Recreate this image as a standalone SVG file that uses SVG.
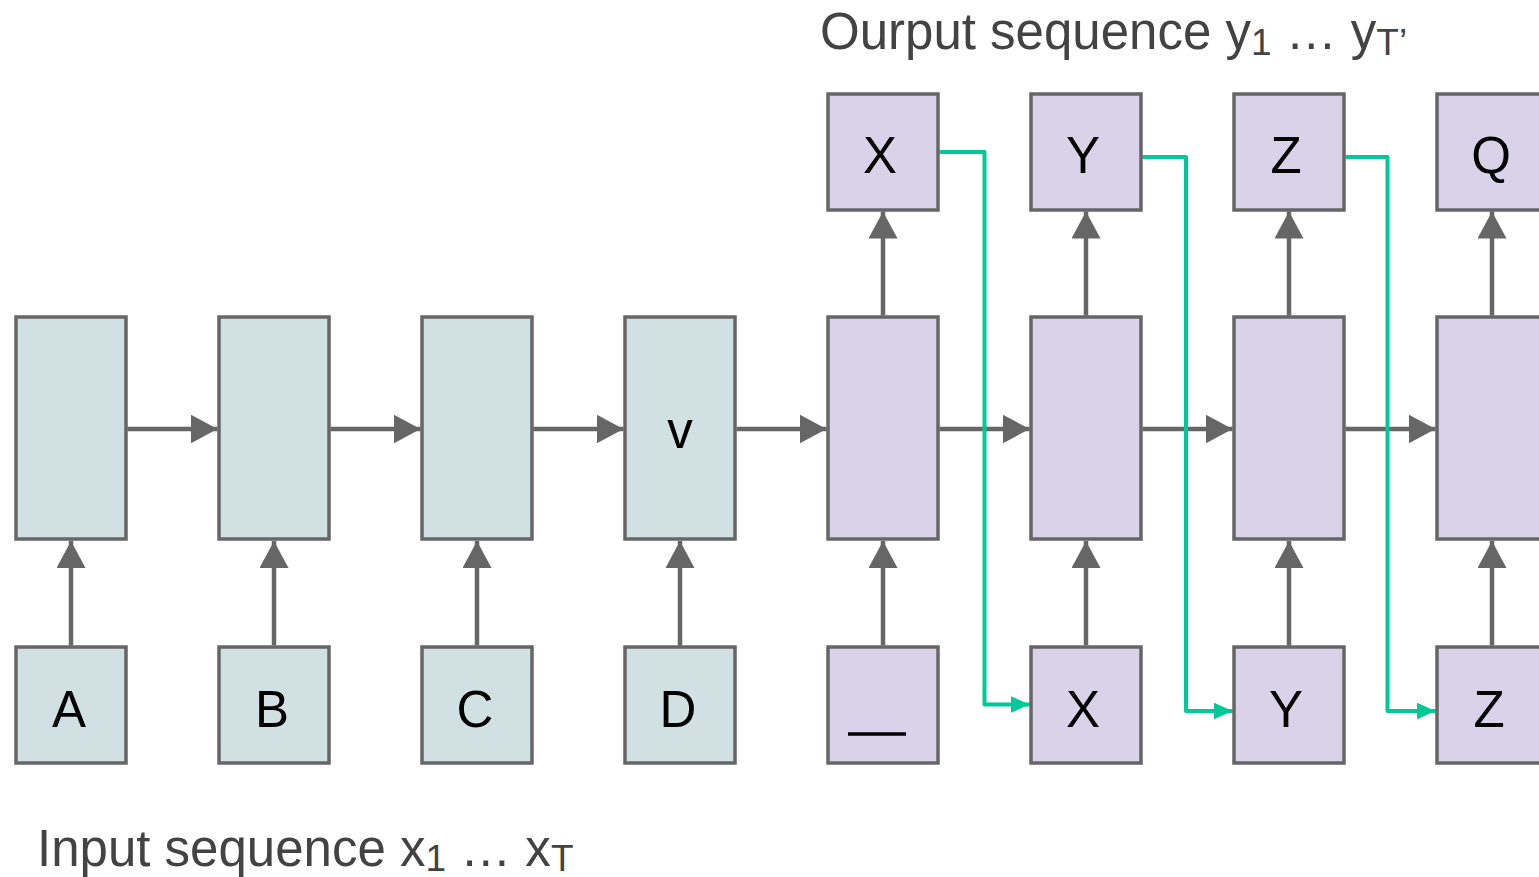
<svg xmlns="http://www.w3.org/2000/svg" width="1539" height="877" viewBox="0 0 1539 877">
  <style>
    .enc { fill: #d0e0e3; stroke: #666666; stroke-width: 3.5; }
    .dec { fill: #d9d2e9; stroke: #666666; stroke-width: 3.5; }
    .lbl { font-family: "Liberation Sans", Arial, sans-serif; font-size: 51px; fill: #000000; text-anchor: middle; }
    .cap { font-family: "Liberation Sans", Arial, sans-serif; font-size: 51px; fill: #434343; }
    .sub { font-size: 37px; }
    .flow { fill: none; stroke: #666666; stroke-width: 4.5; marker-end: url(#grayHead); }
    .feed { fill: none; stroke: #00c896; stroke-width: 4; stroke-linejoin: round; marker-end: url(#greenHead); }
  </style>
  <defs>
    <marker id="grayHead" markerUnits="userSpaceOnUse" markerWidth="27" markerHeight="29" refX="27" refY="14.5" orient="auto">
      <path d="M0,0 L27,14.5 L0,29 z" fill="#666666"/>
    </marker>
    <marker id="greenHead" markerUnits="userSpaceOnUse" markerWidth="19" markerHeight="17" refX="19" refY="8.5" orient="auto">
      <path d="M0,0 L19,8.5 L0,17 z" fill="#00c896"/>
    </marker>
  </defs>

  <rect width="1539" height="877" fill="#ffffff"/>

  <!-- captions -->
  <text class="cap" x="820" y="49">Ourput sequence y<tspan class="sub" dy="6">1</tspan><tspan dy="-6"> … y</tspan><tspan class="sub" dy="6">T’</tspan></text>
  <text class="cap" x="37" y="866">Input sequence x<tspan class="sub" dy="5">1</tspan><tspan dy="-5"> … x</tspan><tspan class="sub" dy="5">T</tspan></text>

  <!-- connectors -->
  <g id="connectors">
    <!-- recurrent state chain -->
    <line class="flow" x1="127.5" y1="429" x2="217.5" y2="429"/>
    <line class="flow" x1="330.5" y1="429" x2="420.5" y2="429"/>
    <line class="flow" x1="533.5" y1="429" x2="623.5" y2="429"/>
    <line class="flow" x1="736.5" y1="429" x2="826.5" y2="429"/>
    <line class="flow" x1="939.5" y1="429" x2="1029.5" y2="429"/>
    <line class="flow" x1="1142.5" y1="429" x2="1232.5" y2="429"/>
    <line class="flow" x1="1345.5" y1="429" x2="1435.5" y2="429"/>
    <!-- inputs into cells -->
    <line class="flow" x1="71" y1="645.5" x2="71" y2="541"/>
    <line class="flow" x1="274" y1="645.5" x2="274" y2="541"/>
    <line class="flow" x1="477" y1="645.5" x2="477" y2="541"/>
    <line class="flow" x1="680" y1="645.5" x2="680" y2="541"/>
    <line class="flow" x1="883" y1="645.5" x2="883" y2="541"/>
    <line class="flow" x1="1086" y1="645.5" x2="1086" y2="541"/>
    <line class="flow" x1="1289" y1="645.5" x2="1289" y2="541"/>
    <line class="flow" x1="1492" y1="645.5" x2="1492" y2="541"/>
    <!-- cells to outputs -->
    <line class="flow" x1="883" y1="315.5" x2="883" y2="211.5"/>
    <line class="flow" x1="1086" y1="315.5" x2="1086" y2="211.5"/>
    <line class="flow" x1="1289" y1="315.5" x2="1289" y2="211.5"/>
    <line class="flow" x1="1492" y1="315.5" x2="1492" y2="211.5"/>
    <!-- outputs fed back as next inputs -->
    <path class="feed" d="M939.5,152 H984.5 V704.5 H1029.5"/>
    <path class="feed" d="M1142.5,157 H1186 V711 H1232.5"/>
    <path class="feed" d="M1345.5,157 H1387.5 V711 H1435.5"/>
  </g>

  <!-- encoder -->
  <g id="enc1"><rect class="enc" x="16" y="317" width="110" height="222"/></g>
  <g id="enc2"><rect class="enc" x="219" y="317" width="110" height="222"/></g>
  <g id="enc3"><rect class="enc" x="422" y="317" width="110" height="222"/></g>
  <g id="enc4"><rect class="enc" x="625" y="317" width="110" height="222"/><text class="lbl" x="680" y="448">v</text></g>
  <g id="inA"><rect class="enc" x="16" y="647" width="110" height="116"/><text class="lbl" x="69" y="727">A</text></g>
  <g id="inB"><rect class="enc" x="219" y="647" width="110" height="116"/><text class="lbl" x="272" y="727">B</text></g>
  <g id="inC"><rect class="enc" x="422" y="647" width="110" height="116"/><text class="lbl" x="475" y="727">C</text></g>
  <g id="inD"><rect class="enc" x="625" y="647" width="110" height="116"/><text class="lbl" x="678" y="727">D</text></g>

  <!-- decoder -->
  <g id="dec1"><rect class="dec" x="828" y="317" width="110" height="222"/></g>
  <g id="dec2"><rect class="dec" x="1031" y="317" width="110" height="222"/></g>
  <g id="dec3"><rect class="dec" x="1234" y="317" width="110" height="222"/></g>
  <g id="dec4"><rect class="dec" x="1437" y="317" width="110" height="222"/></g>
  <g id="inGo"><rect class="dec" x="828" y="647" width="110" height="116"/><line x1="848" y1="734" x2="906" y2="734" stroke="#000000" stroke-width="3.5"/></g>
  <g id="inX"><rect class="dec" x="1031" y="647" width="110" height="116"/><text class="lbl" x="1083" y="727">X</text></g>
  <g id="inY"><rect class="dec" x="1234" y="647" width="110" height="116"/><text class="lbl" x="1286" y="727">Y</text></g>
  <g id="inZ"><rect class="dec" x="1437" y="647" width="110" height="116"/><text class="lbl" x="1489" y="727">Z</text></g>
  <g id="outX"><rect class="dec" x="828" y="94" width="110" height="116"/><text class="lbl" x="880" y="173">X</text></g>
  <g id="outY"><rect class="dec" x="1031" y="94" width="110" height="116"/><text class="lbl" x="1083" y="173">Y</text></g>
  <g id="outZ"><rect class="dec" x="1234" y="94" width="110" height="116"/><text class="lbl" x="1286" y="173">Z</text></g>
  <g id="outQ"><rect class="dec" x="1437" y="94" width="110" height="116"/><text class="lbl" x="1491" y="173">Q</text></g>
</svg>
